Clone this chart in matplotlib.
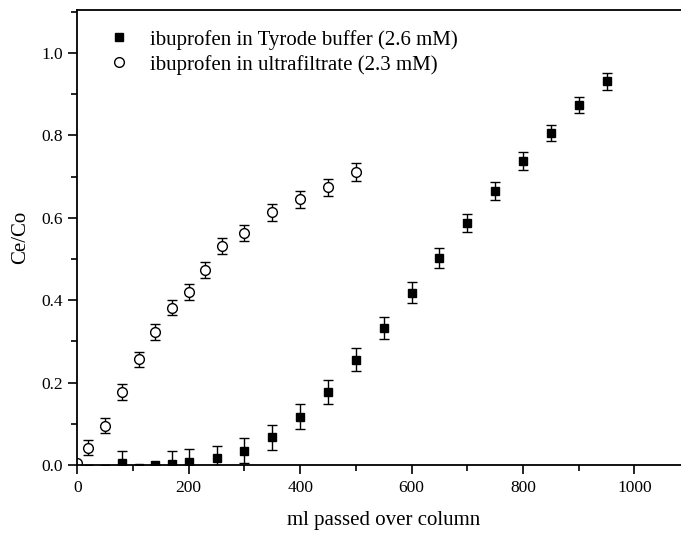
import matplotlib
matplotlib.use("Agg")
import matplotlib.pyplot as plt
from matplotlib.ticker import MultipleLocator, FormatStrFormatter
from matplotlib.lines import Line2D

plt.rcParams['font.family'] = ['Liberation Serif', 'DejaVu Serif']

# Tyrode buffer (filled squares)
tyr_x = [20, 50, 80, 110, 140, 170, 200, 250, 300, 350, 400, 450, 500,
         550, 600, 650, 700, 750, 800, 850, 900, 950]
tyr_y = [-0.009, -0.009, 0.004, -0.007, 0.0, 0.003, 0.008, 0.016, 0.035, 0.067, 0.117, 0.177, 0.255,
         0.333, 0.418, 0.503, 0.588, 0.665, 0.738, 0.805, 0.873, 0.931]
tyr_err = [0.0, 0.0, 0.029, 0.0, 0.0, 0.031, 0.032, 0.031, 0.031, 0.031, 0.030, 0.029, 0.028,
           0.027, 0.025, 0.024, 0.022, 0.022, 0.021, 0.020, 0.020, 0.020]

# Ultrafiltrate (open circles)
uf_x = [0, 20, 50, 80, 110, 140, 170, 200, 230, 260, 300, 350, 400, 450, 500]
uf_y = [0.004, 0.042, 0.095, 0.177, 0.257, 0.323, 0.382, 0.419, 0.473, 0.532, 0.563, 0.613, 0.645, 0.674, 0.712]
uf_err = [0.0, 0.018, 0.018, 0.019, 0.018, 0.019, 0.018, 0.019, 0.019, 0.02, 0.02, 0.02, 0.021, 0.021, 0.022]

labels = ["ibuprofen in Tyrode buffer (2.6 mM)", "ibuprofen in ultrafiltrate (2.3 mM)"]

fig = plt.figure(figsize=(6.81, 5.35), dpi=100)
ax = fig.add_axes([0.1135, 0.1308, 0.9, 0.8505])

ax.errorbar(tyr_x, tyr_y, yerr=tyr_err, fmt='s', color='black', markersize=6.3,
            ecolor='black', elinewidth=1.0, capsize=3.5, capthick=1.0, label=labels[0])
ax.errorbar(uf_x, uf_y, yerr=uf_err, fmt='o', color='black', markerfacecolor='white',
            markeredgecolor='black', markeredgewidth=1.0, markersize=7, ecolor='black',
            elinewidth=1.0, capsize=3.5, capthick=1.0, label=labels[1])

ax.set_xlim(0, 1100)
ax.set_ylim(0, 1.104)
ax.xaxis.set_major_locator(MultipleLocator(200))
ax.xaxis.set_minor_locator(MultipleLocator(100))
ax.yaxis.set_major_locator(MultipleLocator(0.2))
ax.yaxis.set_minor_locator(MultipleLocator(0.1))
ax.yaxis.set_major_formatter(FormatStrFormatter('%.1f'))

ax.spines['right'].set_visible(False)
for s in ['left', 'bottom', 'top']:
    ax.spines[s].set_linewidth(1.3)
ax.tick_params(which='major', direction='out', length=6.5, width=1.2, labelsize=12.5, pad=4)
ax.tick_params(which='minor', direction='out', length=4, width=1.2)
ax.tick_params(top=False, right=False, which='both')

ax.set_xlabel("ml passed over column", fontsize=15, labelpad=11)
ax.set_ylabel("Ce/Co", fontsize=15, labelpad=8)

h = [Line2D([], [], marker='s', color='black', linestyle='none', markersize=6.3),
     Line2D([], [], marker='o', color='black', markerfacecolor='white', linestyle='none', markersize=7)]
ax.legend(h, labels, loc='upper left', bbox_to_anchor=(0.02, 0.998), frameon=False,
          fontsize=15, handletextpad=1.0, labelspacing=0.25, handlelength=1.0)

fig.savefig("out.png", dpi=100)
